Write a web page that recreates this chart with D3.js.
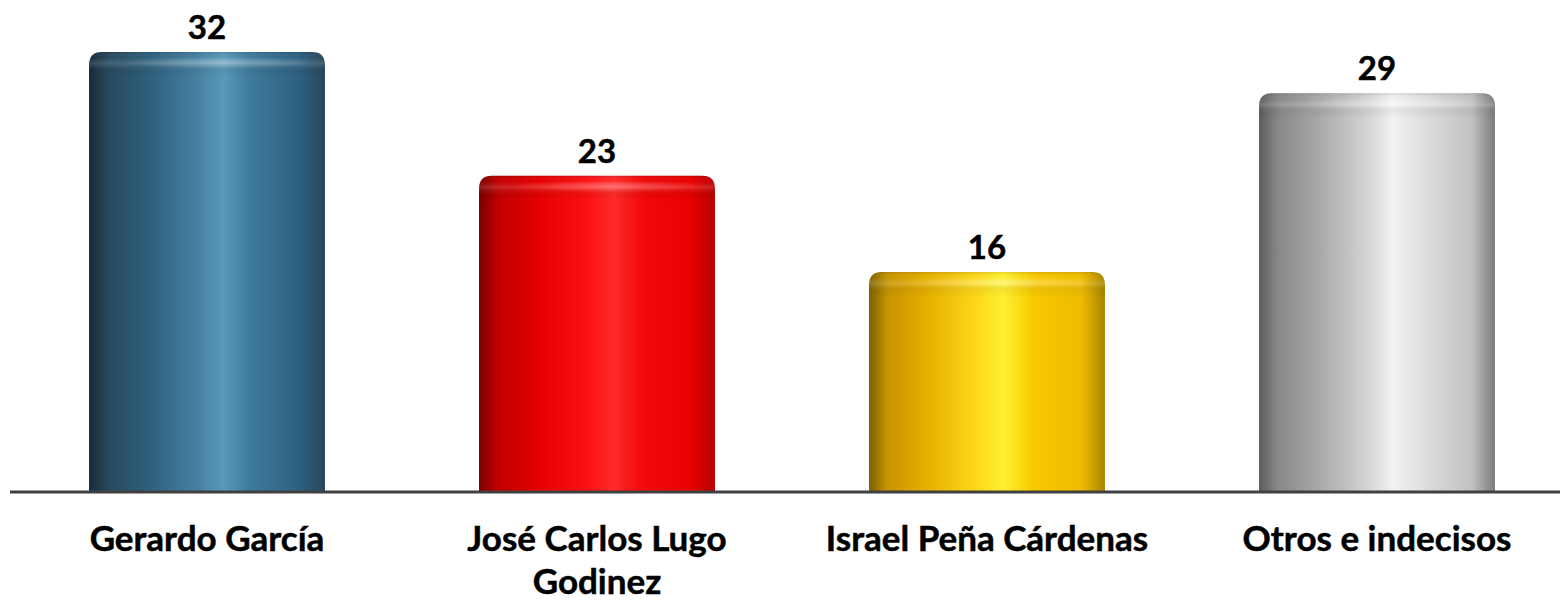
<!DOCTYPE html>
<html>
<head>
<meta charset="utf-8">
<script src="https://cdn.jsdelivr.net/npm/d3@7"></script>
<style>
  html, body { margin: 0; padding: 0; background: #ffffff; }
  svg { display: block; }
  text { font-family: Lato, "Open Sans", sans-serif; font-weight: 700; fill: #000; stroke: #000; stroke-width: 0.5px; }
</style>
</head>
<body>
<script>
const categories = ["Gerardo García", "José Carlos Lugo Godinez", "Israel Peña Cárdenas", "Otros e indecisos"];
const values = [32, 23, 16, 29];
const barStops = [
  [["0%","#172b38"],["8%","#28495d"],["25%","#2e5f7c"],["45%","#457f9f"],["57%","#5b99b9"],["68%","#3f7b9c"],["88%","#2e6282"],["100%","#27475c"]],
  [["0%","#7a0000"],["8%","#c00000"],["25%","#e60000"],["45%","#fa1010"],["57%","#ff2a2a"],["70%","#f20808"],["90%","#e80000"],["100%","#b80000"]],
  [["0%","#7d6200"],["8%","#c89400"],["25%","#e8b000"],["45%","#fcd818"],["57%","#fff030"],["70%","#f8c800"],["90%","#f0bc00"],["100%","#a88400"]],
  [["0%","#5c5c5c"],["8%","#888888"],["25%","#a8a8a8"],["45%","#d2d2d2"],["57%","#f2f2f2"],["70%","#dedede"],["90%","#c2c2c2"],["100%","#7c7c7c"]]
];

const W = 1560, H = 600;
const svg = d3.select("body").append("svg").attr("width", W).attr("height", H);
const defs = svg.append("defs");

const x = d3.scaleBand().domain(categories).range([12, 1572]).paddingInner(0.395).paddingOuter(0.1975);
const y = d3.scaleLinear().domain([0, 32]).range([492, 52]);

barStops.forEach((stops, i) => {
  const g = defs.append("linearGradient").attr("id", "g" + i).attr("x1", "0%").attr("x2", "100%").attr("y1", "0%").attr("y2", "0%");
  stops.forEach(s => g.append("stop").attr("offset", s[0]).attr("stop-color", s[1]));
});
// top bevel overlay
const tb = defs.append("linearGradient").attr("id", "topBevel").attr("x1", "0").attr("x2", "0").attr("y1", "0").attr("y2", "1");
tb.append("stop").attr("offset", "0").attr("stop-color", "#000").attr("stop-opacity", 0.12);
tb.append("stop").attr("offset", "0.2").attr("stop-color", "#fff").attr("stop-opacity", 0.0);
tb.append("stop").attr("offset", "0.45").attr("stop-color", "#fff").attr("stop-opacity", 0.14);
tb.append("stop").attr("offset", "0.75").attr("stop-color", "#000").attr("stop-opacity", 0.04);
tb.append("stop").attr("offset", "1").attr("stop-color", "#000").attr("stop-opacity", 0);
// centre highlight on top rim
const rh = defs.append("radialGradient").attr("id", "rimHi").attr("cx", "0.57").attr("cy", "0.45").attr("r", "0.5");
rh.append("stop").attr("offset", "0").attr("stop-color", "#fff").attr("stop-opacity", 0.25);
rh.append("stop").attr("offset", "1").attr("stop-color", "#fff").attr("stop-opacity", 0);

const r = 13;
function barPath(x0, w, yTop, yBot) {
  return `M${x0},${yBot} L${x0},${yTop + r} Q${x0},${yTop} ${x0 + r},${yTop} L${x0 + w - r},${yTop} Q${x0 + w},${yTop} ${x0 + w},${yTop + r} L${x0 + w},${yBot} Z`;
}

const bars = svg.append("g").selectAll("g").data(categories).join("g");
bars.append("path")
  .attr("d", (d, i) => barPath(x(d), x.bandwidth(), y(values[i]), y(0)))
  .attr("fill", (d, i) => `url(#g${i})`);
bars.append("path")
  .attr("d", (d, i) => barPath(x(d), x.bandwidth(), y(values[i]), y(values[i]) + 26))
  .attr("fill", "url(#topBevel)");
bars.append("rect")
  .attr("x", d => x(d) + 20)
  .attr("width", x.bandwidth() - 40)
  .attr("y", (d, i) => y(values[i]) + 5)
  .attr("height", 12)
  .attr("fill", "url(#rimHi)");

// axis line
svg.append("line").attr("x1", 10).attr("x2", 1560).attr("y1", y(0)).attr("y2", y(0))
  .attr("stroke", "#404040").attr("stroke-width", 3);

// value labels
svg.append("g").selectAll("text").data(categories).join("text")
  .attr("x", d => x(d) + x.bandwidth() / 2)
  .attr("y", (d, i) => y(values[i]) - 13)
  .attr("text-anchor", "middle")
  .style("font-size", "33px")
  .text((d, i) => values[i]);

// category labels with wrapping
const maxW = 330;
const labels = svg.append("g").selectAll("text").data(categories).join("text")
  .attr("x", d => x(d) + x.bandwidth() / 2)
  .attr("y", 551)
  .attr("text-anchor", "middle")
  .style("font-size", "35px");
labels.each(function(d) {
  const t = d3.select(this);
  const words = d.split(" ");
  let line = [], lines = [];
  const tmp = t.append("tspan");
  words.forEach(w => {
    const test = line.concat([w]).join(" ");
    tmp.text(test);
    if (tmp.node().getComputedTextLength() > maxW && line.length) {
      lines.push(line.join(" "));
      line = [w];
    } else line.push(w);
  });
  lines.push(line.join(" "));
  tmp.remove();
  lines.forEach((l, k) => {
    t.append("tspan").attr("x", x(d) + x.bandwidth() / 2).attr("dy", k === 0 ? 0 : 43).text(l);
  });
});
</script>
</body>
</html>
